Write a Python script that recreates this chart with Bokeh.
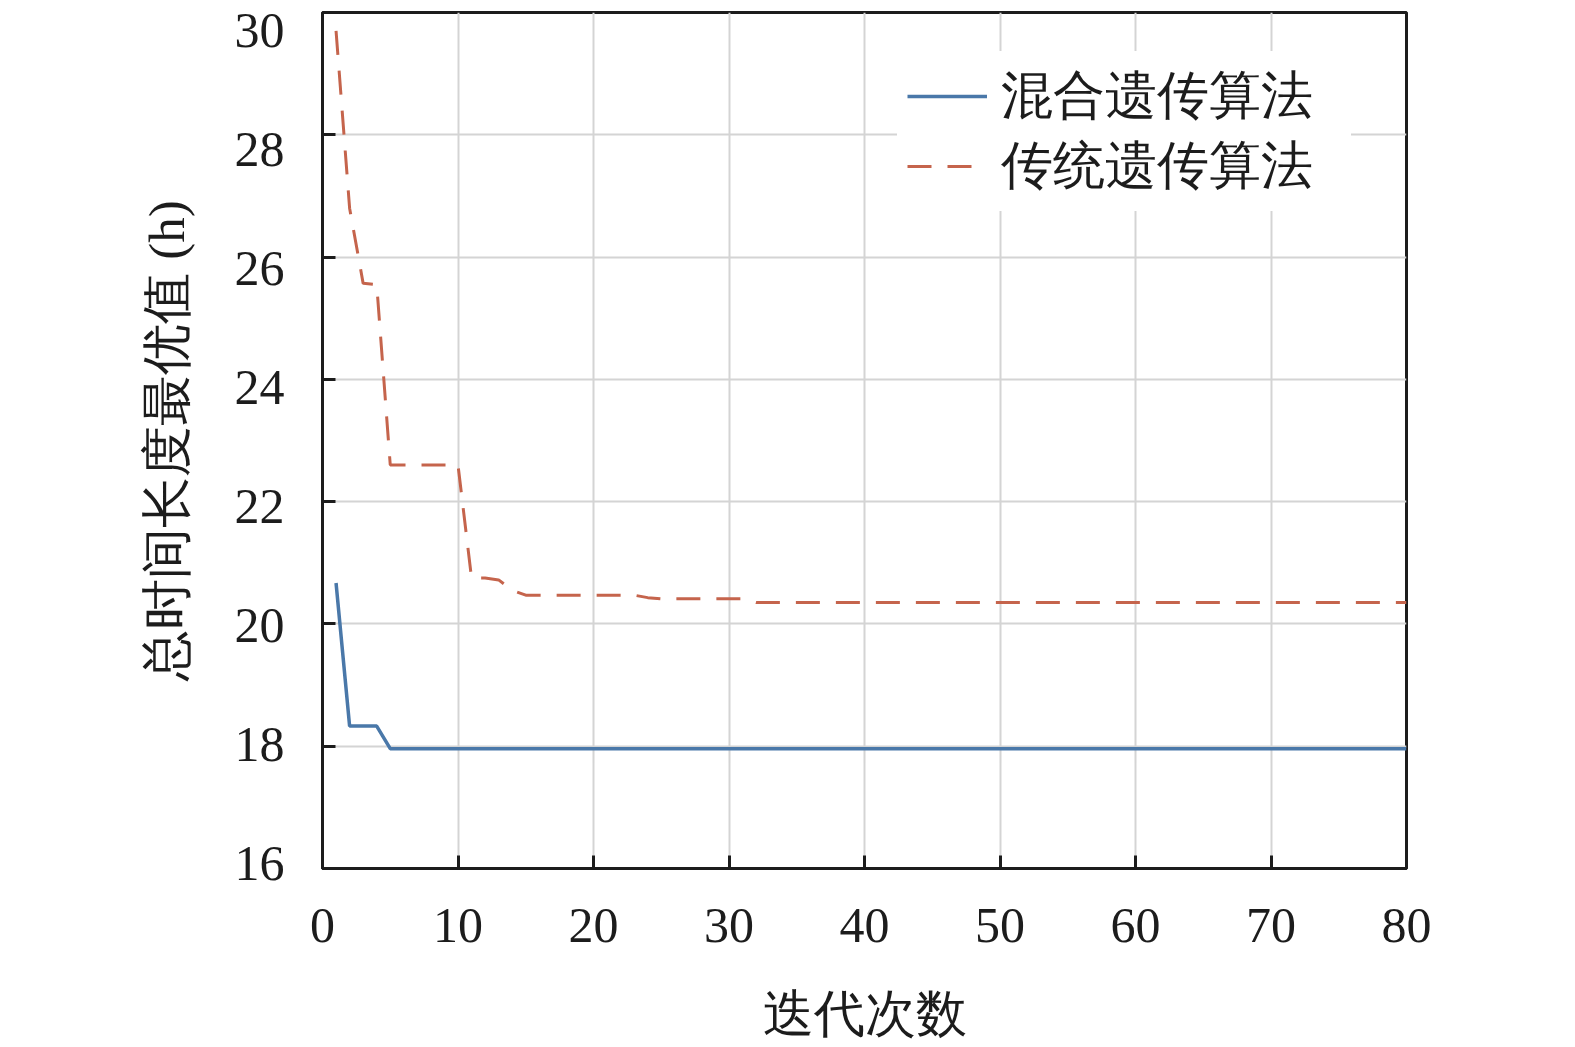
from bokeh.plotting import figure
from bokeh.models import (FixedTicker, Legend, LegendItem, LinearAxis, Range1d,
                          CustomJSTickFormatter)
from bokeh.embed import file_html
from bokeh.resources import INLINE

# ---------------- data ----------------
iterations = list(range(1, 81))

hybrid_ga = [
    20.67, 18.33, 18.33, 18.33, 17.96, 17.96, 17.96, 17.96, 17.96, 17.96,
    17.96, 17.96, 17.96, 17.96, 17.96, 17.96, 17.96, 17.96, 17.96, 17.96,
    17.96, 17.96, 17.96, 17.96, 17.96, 17.96, 17.96, 17.96, 17.96, 17.96,
    17.96, 17.96, 17.96, 17.96, 17.96, 17.96, 17.96, 17.96, 17.96, 17.96,
    17.96, 17.96, 17.96, 17.96, 17.96, 17.96, 17.96, 17.96, 17.96, 17.96,
    17.96, 17.96, 17.96, 17.96, 17.96, 17.96, 17.96, 17.96, 17.96, 17.96,
    17.96, 17.96, 17.96, 17.96, 17.96, 17.96, 17.96, 17.96, 17.96, 17.96,
    17.96, 17.96, 17.96, 17.96, 17.96, 17.96, 17.96, 17.96, 17.96, 17.96,
]

traditional_ga = [
    29.70, 26.80, 25.57, 25.55, 22.60, 22.60, 22.60, 22.60, 22.60, 22.60,
    20.75, 20.75, 20.72, 20.55, 20.47, 20.47, 20.47, 20.47, 20.47, 20.47,
    20.47, 20.47, 20.47, 20.43, 20.41, 20.41, 20.41, 20.41, 20.41, 20.41,
    20.41, 20.35, 20.35, 20.35, 20.35, 20.35, 20.35, 20.35, 20.35, 20.35,
    20.35, 20.35, 20.35, 20.35, 20.35, 20.35, 20.35, 20.35, 20.35, 20.35,
    20.35, 20.35, 20.35, 20.35, 20.35, 20.35, 20.35, 20.35, 20.35, 20.35,
    20.35, 20.35, 20.35, 20.35, 20.35, 20.35, 20.35, 20.35, 20.35, 20.35,
    20.35, 20.35, 20.35, 20.35, 20.35, 20.35, 20.35, 20.35, 20.35, 20.35,
]

x_ticks = [0, 10, 20, 30, 40, 50, 60, 70, 80]
y_ticks = [16, 18, 20, 22, 24, 26, 28, 30]

series_names = ["混合遗传算法", "传统遗传算法"]
x_title = "迭代次数"
y_title = "总时间长度最优值 (h)"

# ---------------- style ----------------
BLUE = "#4a78a9"
RED = "#c5644c"
INK = "#1c1c1c"
SERIF = "Liberation Serif"

p = figure(
    width=1556, height=1047,
    x_range=(0, 80), y_range=(16, 30),
    output_backend="svg", toolbar_location=None,
    min_border_left=322, min_border_right=150,
    min_border_top=12, min_border_bottom=179,
    background_fill_color="white", border_fill_color="white",
)

p.outline_line_color = INK
p.outline_line_width = 3

# grid
p.xgrid.ticker = FixedTicker(ticks=x_ticks)
p.ygrid.ticker = FixedTicker(ticks=y_ticks)
for g in (p.xgrid, p.ygrid):
    g.grid_line_color = "#d4d4d4"
    g.grid_line_width = 2

# main axes (lines + inward ticks)
for ax in (p.xaxis, p.yaxis):
    ax.axis_line_color = INK
    ax.axis_line_width = 3
    ax.major_tick_line_color = INK
    ax.major_tick_line_width = 3
    ax.major_tick_in = 13
    ax.major_tick_out = 0
    ax.minor_tick_line_color = None

p.xaxis.ticker = FixedTicker(ticks=x_ticks)
p.yaxis.ticker = FixedTicker(ticks=y_ticks)

p.xaxis.major_label_text_font = SERIF
p.xaxis.major_label_text_font_size = "50px"
p.xaxis.major_label_text_color = INK
p.xaxis.major_label_standoff = 40
p.xaxis.axis_label = x_title
p.xaxis.axis_label_standoff = 41
p.xaxis.axis_label_text_font = SERIF
p.xaxis.axis_label_text_font_style = "normal"
p.xaxis.axis_label_text_font_size = "51px"
p.xaxis.axis_label_text_color = INK

# main y axis: ticks only (labels are on the label axis below)
p.yaxis.formatter = CustomJSTickFormatter(code="return ''")
p.yaxis.major_label_standoff = 0

# label axis: the original's tick labels are spaced slightly tighter
# than its ticks, so they sit on a marginally wider range
p.extra_y_ranges = {"labels": Range1d(15.914, 30.30)}
lab_axis = LinearAxis(
    y_range_name="labels",
    ticker=FixedTicker(ticks=y_ticks),
    axis_line_color=None,
    major_tick_line_color=None,
    minor_tick_line_color=None,
    major_label_text_font=SERIF,
    major_label_text_font_size="50px",
    major_label_text_color=INK,
    major_label_standoff=32,
    axis_label=y_title,
    axis_label_standoff=37,
    axis_label_text_font=SERIF,
    axis_label_text_font_style="normal",
    axis_label_text_font_size="51px",
    axis_label_text_color=INK,
)
p.add_layout(lab_axis, "left")

# lines
r_hybrid = p.line(iterations, hybrid_ga, line_color=BLUE, line_width=3.5)
r_trad = p.line(iterations, traditional_ga, line_color=RED, line_width=3,
                line_dash="24 16")

legend = Legend(
    items=[LegendItem(label=series_names[0], renderers=[r_hybrid]),
           LegendItem(label=series_names[1], renderers=[r_trad])],
    location=(575, 657),
    label_text_font=SERIF,
    label_text_font_size="52px",
    label_text_color=INK,
    label_standoff=14,
    label_height=60,
    label_width=340,
    glyph_width=80,
    glyph_height=60,
    spacing=0,
    padding=10,
    margin=0,
    border_line_alpha=0,
    background_fill_color="white",
    background_fill_alpha=1.0,
)
p.add_layout(legend)

open("out.html", "w").write(file_html(p, INLINE))
